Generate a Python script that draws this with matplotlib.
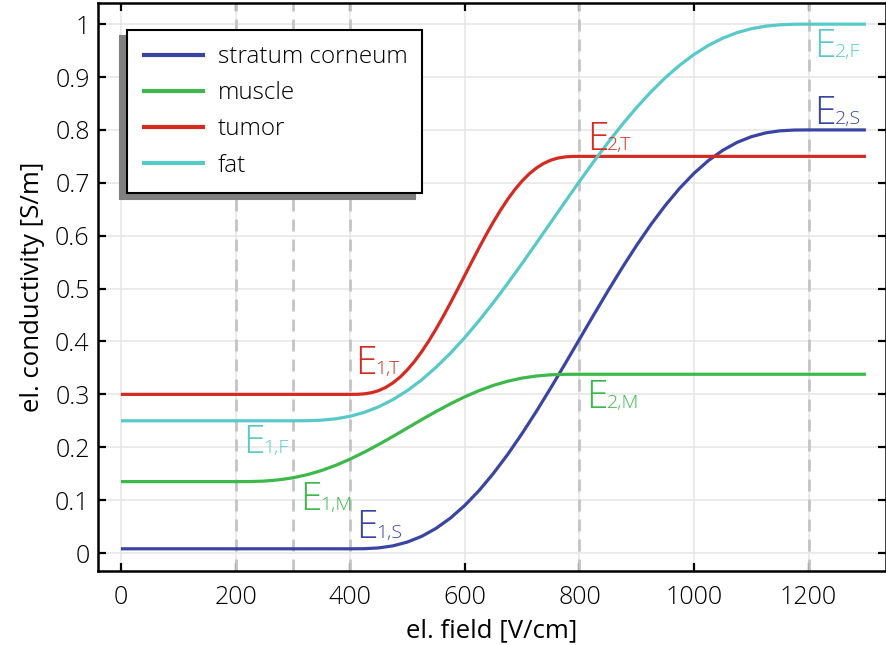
import matplotlib
matplotlib.use("Agg")
import matplotlib.pyplot as plt

plt.rcParams['font.family'] = ['Open Sans', 'DejaVu Sans']
plt.rcParams['font.weight'] = 'light'

# ---- data ----
field = list(range(0, 1325, 25))  # V/cm
tumor_field = (list(range(0, 400, 25)) + [400 + 12.5 * k for k in range(33)] +
               list(range(825, 1325, 25)))

stratum = ([0.008] * 17 +
           [0.0082, 0.0097, 0.0136, 0.0208, 0.0316, 0.0467, 0.0661, 0.0900,
            0.1182, 0.1506, 0.1866, 0.2260, 0.2680, 0.3121, 0.3577, 0.4040,
            0.4503, 0.4959, 0.5400, 0.5820, 0.6214, 0.6574, 0.6898, 0.7180,
            0.7420, 0.7613, 0.7764, 0.7872, 0.7944, 0.7983, 0.7998, 0.8000] +
           [0.8] * 4)

muscle = ([0.135] * 9 +
          [0.1351, 0.1360, 0.1383, 0.1422, 0.1481, 0.1560, 0.1659, 0.1776,
           0.1909, 0.2054, 0.2207, 0.2365, 0.2523, 0.2676, 0.2821, 0.2954,
           0.3071, 0.3170, 0.3249, 0.3308, 0.3347, 0.3370, 0.3379, 0.3380] +
          [0.338] * 20)

tumor = ([0.3] * 17 +
         [0.3001, 0.3010, 0.3032, 0.3072, 0.3134, 0.3220, 0.3330, 0.3466,
          0.3626, 0.3810, 0.4015, 0.4238, 0.4477, 0.4728, 0.4987, 0.5250,
          0.5513, 0.5772, 0.6023, 0.6262, 0.6485, 0.6690, 0.6874, 0.7034,
          0.7170, 0.7280, 0.7366, 0.7428, 0.7468, 0.7490, 0.7499, 0.7500] +
         [0.75] * 20)

fat = ([0.25] * 13 +
       [0.2502, 0.2512, 0.2538, 0.2586, 0.2661, 0.2766, 0.2903, 0.3073,
        0.3276, 0.3513, 0.3779, 0.4074, 0.4395, 0.4738, 0.5100, 0.5475,
        0.5860, 0.6250, 0.6640, 0.7025, 0.7401, 0.7762, 0.8105, 0.8426,
        0.8721, 0.8988, 0.9224, 0.9427, 0.9597, 0.9734, 0.9839, 0.9914,
        0.9962, 0.9988, 0.9999, 1.0000] +
       [1.0] * 4)

series_names = ['stratum corneum', 'muscle', 'tumor', 'fat']
series_x = [field, field, tumor_field, field]
series_values = [stratum, muscle, tumor, fat]
series_colors = ['#3a45a3', '#3cb94a', '#d52a20', '#58c9c9']

thresholds = [200, 300, 400, 800, 1200]

# annotations: (main, subscript, x, y, color)
ann_main = ['E', 'E', 'E', 'E', 'E', 'E', 'E', 'E']
ann_sub = ['1,S', '2,S', '1,M', '2,M', '1,T', '2,T', '1,F', '2,F']
ann_x = [411, 1210, 312, 812, 408, 813, 213, 1210]
ann_y = [0.028, 0.811, 0.081, 0.274, 0.338, 0.762, 0.189, 0.938]
ann_col = ['#3a45a3', '#3a45a3', '#3cb94a', '#3cb94a',
           '#d52a20', '#d52a20', '#58c9c9', '#58c9c9']

xticks = [0, 200, 400, 600, 800, 1000, 1200]
yticks = [0, 0.1, 0.2, 0.3, 0.4, 0.5, 0.6, 0.7, 0.8, 0.9, 1.0]
ytick_labels = ['0', '0.1', '0.2', '0.3', '0.4', '0.5', '0.6', '0.7', '0.8', '0.9', '1']

# ---- figure ----
fig = plt.figure(figsize=(8.86, 6.45), dpi=100)
ax = fig.add_axes([98 / 886, 1 - 571 / 645, (886 - 98) / 886, (571 - 3) / 645])

ax.set_xlim(-40, 1335)
ax.set_ylim(-0.034, 1.040)

ax.grid(True, color='#e6e6e6', linewidth=1.1, zorder=0)
ax.set_axisbelow(True)

for t in thresholds:
    ax.axvline(t, color='#c4c4c4', linewidth=2.0, linestyle=(0, (4.3, 2.9)), zorder=1)

for name, xs, vals, col in zip(series_names, series_x, series_values, series_colors):
    ax.plot(xs, vals, color=col, linewidth=2.3, label=name, zorder=3,
            solid_capstyle='butt', solid_joinstyle='round')

for m, s, x, y, c in zip(ann_main, ann_sub, ann_x, ann_y, ann_col):
    ax.text(x, y, m, fontsize=28, color=c, ha='left', va='baseline', zorder=4)
    ax.annotate(s, xy=(x, y), xycoords='data', xytext=(14.5, 0),
                textcoords='offset points', fontsize=14, color=c,
                ha='left', va='baseline', zorder=4)

ax.set_xticks(xticks)
ax.set_yticks(yticks)
ax.set_yticklabels(ytick_labels)
ax.tick_params(direction='in', length=6, width=1.6, top=True, right=True,
               labelsize=18, colors='black', pad=6)
ax.tick_params(axis='x', pad=10)
for sp in ax.spines.values():
    sp.set_linewidth(1.8)

ax.set_xlabel('el. field [V/cm]', fontsize=18.5, labelpad=6)
ax.set_ylabel('el. conductivity [S/m]', fontsize=18.5, labelpad=7)

leg = ax.legend(loc='upper left', bbox_to_anchor=(0.037, 0.9525),
                borderaxespad=0, fontsize=17.5, fancybox=False,
                frameon=True, framealpha=1, edgecolor='black',
                handlelength=2.6, handletextpad=0.5, labelspacing=0.5,
                borderpad=0.62,
                shadow={'ox': -5, 'oy': -4.5, 'facecolor': '#808080',
                        'edgecolor': '#808080', 'alpha': 1})
leg.get_frame().set_linewidth(1.5)
for line in leg.get_lines():
    line.set_linewidth(3.0)

fig.savefig('out.png', dpi=100)
